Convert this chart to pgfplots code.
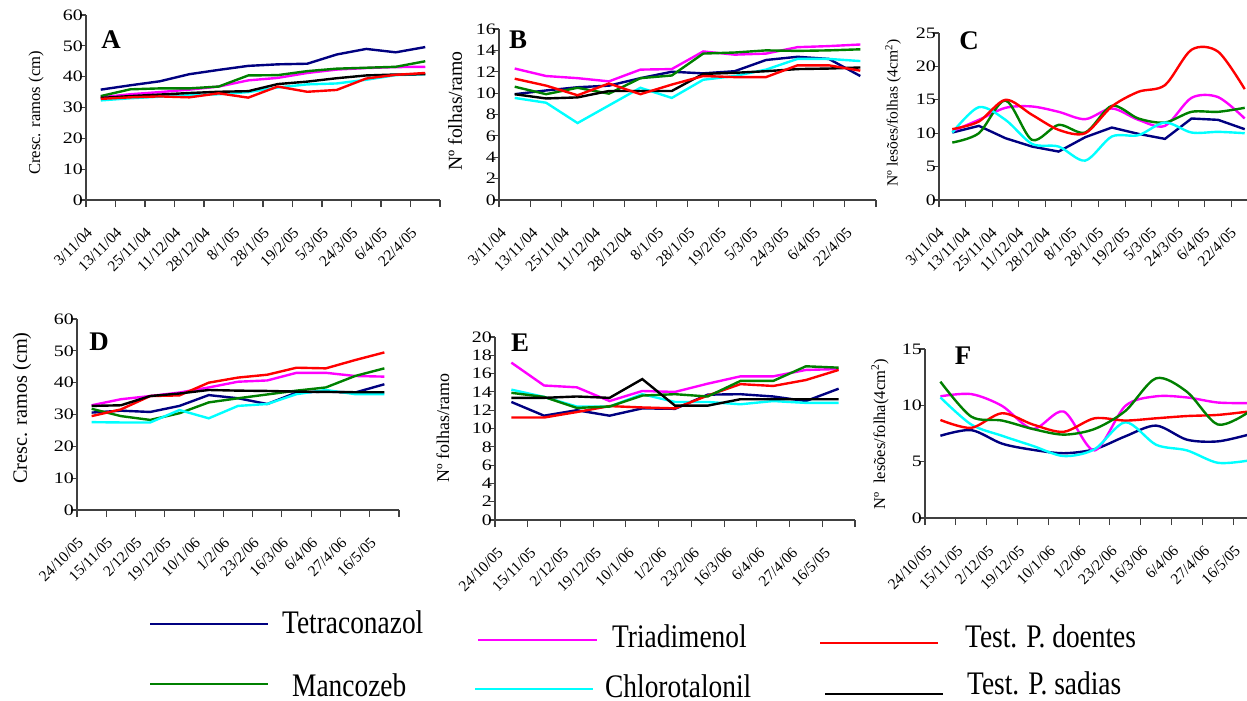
\documentclass[border=0pt]{standalone}
\usepackage{fontspec}
\setmainfont{Liberation Serif}
\usepackage{graphicx}
\usepackage{pgfplots}
\pgfplotsset{compat=1.18}
\usepackage{pgfplotstable}

\definecolor{cTet}{RGB}{0,0,128}
\definecolor{cTri}{RGB}{255,0,255}
\definecolor{cDoe}{RGB}{255,0,0}
\definecolor{cMan}{RGB}{0,128,0}
\definecolor{cChl}{RGB}{0,255,255}
\definecolor{cSad}{RGB}{0,0,0}

\pgfplotstableread{
x tet tri doe man chl sad
1 35.8 33.3 32.8 33.7 32.3 33.1
2 37.2 34.3 33.3 35.9 33.0 33.7
3 38.5 35.0 33.6 36.2 33.5 34.2
4 40.8 35.8 33.3 36.2 34.0 34.7
5 42.2 36.8 34.6 36.8 34.3 35.1
6 43.5 38.8 33.2 40.4 35.0 35.3
7 44.0 39.6 36.8 40.5 36.5 37.6
8 44.2 41.2 35.1 41.8 37.5 38.4
9 47.2 42.3 35.7 42.6 37.8 39.5
10 49.0 42.8 39.4 42.9 39.0 40.4
11 47.9 43.1 40.6 43.2 40.5 40.7
12 49.6 43.2 41.2 45.0 40.8 40.8
}\tabA

\pgfplotstableread{
x tet tri doe man chl sad
1 9.9 12.3 11.35 10.6 9.55 9.9
2 10.25 11.6 10.7 9.9 9.1 9.5
3 10.55 11.4 9.8 10.5 7.2 9.6
4 10.7 11.1 10.9 9.95 8.85 10.2
5 11.4 12.2 9.9 11.4 10.5 10.2
6 12.0 12.25 10.8 11.65 9.55 10.2
7 11.85 13.9 11.6 13.7 11.25 11.8
8 12.05 13.6 11.5 13.8 11.6 11.9
9 13.1 13.7 11.5 14.0 12.2 12.05
10 13.4 14.3 12.6 13.95 13.2 12.25
11 13.2 14.4 12.6 14.0 13.2 12.3
12 11.6 14.55 12.1 14.1 13.0 12.4
}\tabB

\pgfplotstableread{
x tet tri doe man chl
1 10.1 10.3 10.6 8.6 10.1
2 11.1 12.0 11.75 10.0 13.9
3 9.25 13.8 15.0 14.9 12.0
4 8.0 14.0 12.75 9.0 8.4
5 7.25 13.2 10.5 11.25 8.0
6 9.4 12.1 10.0 10.1 5.9
7 10.85 13.7 14.0 14.1 9.5
8 9.9 12.0 16.2 12.2 9.7
9 9.15 11.1 17.2 11.6 11.6
10 12.2 15.3 22.5 13.2 10.1
11 12.0 15.4 22.2 13.2 10.2
12 10.6 12.2 16.6 13.8 10.0
}\tabC

\pgfplotstableread{
x tet tri doe man chl sad
1 30.6 32.9 29.5 31.8 27.6 32.7
2 31.2 34.8 31.6 29.5 27.5 32.9
3 30.8 35.8 35.8 28.3 27.5 35.8
4 32.7 36.9 36.0 30.4 31.4 36.6
5 36.1 38.5 40.0 33.8 28.8 37.7
6 35.1 40.3 41.6 35.1 32.7 37.5
7 33.3 40.7 42.5 36.3 33.3 37.4
8 36.9 43.1 44.7 37.5 36.4 37.2
9 37.2 43.1 44.5 38.5 37.7 37.1
10 36.9 42.1 47.1 42.1 36.4 37.0
11 39.5 41.9 49.5 44.5 36.4 37.0
}\tabD

\pgfplotstableread{
x tet tri doe man chl sad
1 12.9 17.2 11.2 13.9 14.25 13.35
2 11.4 14.7 11.2 13.45 13.45 13.35
3 12.0 14.5 11.8 12.25 12.4 13.5
4 11.4 13.0 12.45 12.4 12.4 13.35
5 12.2 14.1 12.3 13.6 13.75 15.4
6 12.15 14.0 12.2 13.75 12.9 12.5
7 13.7 14.9 13.6 13.5 12.9 12.5
8 13.75 15.7 14.85 15.2 12.65 13.2
9 13.5 15.7 14.65 15.2 13.0 13.2
10 13.0 16.4 15.3 16.8 12.8 13.2
11 14.35 16.5 16.4 16.65 12.8 13.2
}\tabE

\pgfplotstableread{
x tet tri doe man chl
1 7.3 10.8 8.7 12.1 10.7
2 7.8 11.0 8.0 9.0 8.3
3 6.6 9.95 9.3 8.65 7.3
4 6.05 7.9 8.3 7.9 6.4
5 5.75 9.45 7.65 7.4 5.5
6 6.1 6.0 8.85 7.9 6.1
7 7.25 9.95 8.65 9.5 8.5
8 8.2 10.8 8.85 12.4 6.5
9 6.95 10.7 9.05 11.2 6.0
10 6.8 10.25 9.15 8.3 4.9
11 7.4 10.2 9.45 9.4 5.1
}\tabF

\pgfplotsset{
  panel/.style={
    scale only axis, anchor=south west,
    axis lines=left,
    axis line style={-, draw=black!75, line width=1.1bp},
    tick align=outside,
    xmin=0.5, ymin=0,
    major tick length=6bp, minor tick length=7bp,
    tick style={draw=black!75, line width=1.1bp},
    every major x tick/.append style={draw=none},
    /pgf/number format/assume math mode=true,
    yticklabel={\scalebox{1.25}[1]{\pgfmathprintnumber{\tick}}},
    yticklabel style={font=\fontsize{16}{18}\selectfont, inner sep=1bp, xshift=4bp},
    xticklabel style={font=\fontsize{15.5}{17}\selectfont, xshift=-11bp, yshift=-24bp, rotate=45, anchor=east, inner sep=0pt},
    every axis plot/.append style={line width=2.4bp},
    clip=false,
  },
  cats12/.style={xmax=12.5, xtick={1,...,12}, minor xtick={0.5,1.5,...,12.5},
    xticklabels={3/11/04,13/11/04,25/11/04,11/12/04,28/12/04,8/1/05,28/1/05,19/2/05,5/3/05,24/3/05,6/4/05,22/4/05}},
  cats11/.style={xmax=11.5, xtick={1,...,11}, minor xtick={0.5,1.5,...,11.5},
    xticklabels={24/10/05,15/11/05,2/12/05,19/12/05,10/1/06,1/2/06,23/2/06,16/3/06,6/4/06,27/4/06,16/5/05}},
}

\begin{document}
\begin{tikzpicture}
\useasboundingbox (0,0) rectangle (1247bp,-701bp);

% ---------- A ----------
\begin{axis}[panel, cats12, at={(86bp,-200bp)}, width=354bp, height=185bp,
  ymax=60, ytick={0,10,...,60}]
\addplot[cTet] table[x=x,y=tet]{\tabA};
\addplot[cTri] table[x=x,y=tri]{\tabA};
\addplot[cMan] table[x=x,y=man]{\tabA};
\addplot[cChl] table[x=x,y=chl]{\tabA};
\addplot[cSad] table[x=x,y=sad]{\tabA};
\addplot[cDoe] table[x=x,y=doe]{\tabA};
\end{axis}

% ---------- B ----------
\begin{axis}[panel, cats12, at={(499bp,-200bp)}, width=377bp, height=171bp,
  ymax=16, ytick={0,2,...,16}]
\addplot[cTet] table[x=x,y=tet]{\tabB};
\addplot[cTri] table[x=x,y=tri]{\tabB};
\addplot[cMan] table[x=x,y=man]{\tabB};
\addplot[cChl] table[x=x,y=chl]{\tabB};
\addplot[cSad] table[x=x,y=sad]{\tabB};
\addplot[cDoe] table[x=x,y=doe]{\tabB};
\end{axis}

% ---------- C ----------
\begin{axis}[panel, cats12, at={(939bp,-200bp)}, width=319bp, height=167bp,
  ymax=25, ytick={0,5,...,25}]
\addplot[cTet] table[x=x,y=tet]{\tabC};
\addplot[cTri, smooth] table[x=x,y=tri]{\tabC};
\addplot[cMan, smooth] table[x=x,y=man]{\tabC};
\addplot[cChl, smooth] table[x=x,y=chl]{\tabC};
\addplot[cDoe, smooth] table[x=x,y=doe]{\tabC};
\end{axis}

% ---------- D ----------
\begin{axis}[panel, cats11, at={(77bp,-510bp)}, width=322bp, height=191bp,
  ymax=60, ytick={0,10,...,60}]
\addplot[cTet] table[x=x,y=tet]{\tabD};
\addplot[cTri] table[x=x,y=tri]{\tabD};
\addplot[cMan] table[x=x,y=man]{\tabD};
\addplot[cChl] table[x=x,y=chl]{\tabD};
\addplot[cDoe] table[x=x,y=doe]{\tabD};
\addplot[cSad] table[x=x,y=sad]{\tabD};
\end{axis}

% ---------- E ----------
\begin{axis}[panel, cats11, at={(495bp,-520bp)}, width=360bp, height=183bp,
  ymax=20, ytick={0,2,...,20}]
\addplot[cTet] table[x=x,y=tet]{\tabE};
\addplot[cTri] table[x=x,y=tri]{\tabE};
\addplot[cChl] table[x=x,y=chl]{\tabE};
\addplot[cDoe] table[x=x,y=doe]{\tabE};
\addplot[cMan] table[x=x,y=man]{\tabE};
\addplot[cSad] table[x=x,y=sad]{\tabE};
\end{axis}

% ---------- F ----------
\begin{axis}[panel, cats11, at={(925bp,-518bp)}, width=339bp, height=169bp,
  ymax=15, ytick={0,5,...,15}]
\addplot[cTet, smooth] table[x=x,y=tet]{\tabF};
\addplot[cTri, smooth] table[x=x,y=tri]{\tabF};
\addplot[cChl, smooth] table[x=x,y=chl]{\tabF};
\addplot[cDoe, smooth] table[x=x,y=doe]{\tabF};
\addplot[cMan, smooth] table[x=x,y=man]{\tabF};
\end{axis}

% panel letters
\begin{scope}[every node/.style={font=\bfseries\fontsize{27}{30}\selectfont, inner sep=0pt}]
\node at (111bp,-40bp) {A};
\node at (518bp,-40bp) {B};
\node at (969bp,-41bp) {C};
\node at (99bp,-342bp) {D};
\node at (520bp,-343bp) {E};
\node at (963bp,-356bp) {F};
\end{scope}

% y labels
\node[rotate=90, inner sep=0pt, font=\fontsize{16.7}{18}\selectfont] at (36bp,-113bp) {Cresc. ramos (cm)};
\node[rotate=90, inner sep=0pt, font=\fontsize{19.8}{22}\selectfont] at (455bp,-111bp) {Nº folhas/ramo};
\node[rotate=90, inner sep=0pt, font=\fontsize{15.6}{18}\selectfont] at (893bp,-113bp) {Nº lesões/folhas (4cm\textsuperscript{2})};
\node[rotate=90, inner sep=0pt, font=\fontsize{20.4}{22}\selectfont] at (22bp,-408bp) {Cresc. ramos (cm)};
\node[rotate=90, inner sep=0pt, font=\fontsize{18}{20}\selectfont] at (443bp,-428bp) {Nº folhas/ramo};
\node[rotate=90, inner sep=0pt, font=\fontsize{16.6}{18}\selectfont] at (880bp,-434bp) {Nº\ \ lesões/folha(4cm\textsuperscript{2})};

% legend
\begin{scope}[every node/.style={anchor=west, inner sep=0pt, font=\fontsize{27.5}{30}\selectfont}]
\draw[cTet, line width=2.4bp] (150bp,-624bp) -- (268bp,-624bp);
\node at (282bp,-622bp) {\scalebox{1}[1.2]{Tetraconazol}};
\draw[cTri, line width=2.4bp] (478bp,-640bp) -- (597bp,-640bp);
\node at (612bp,-636bp) {\scalebox{1}[1.2]{Triadimenol}};
\draw[cDoe, line width=2.4bp] (820bp,-643bp) -- (938bp,-643bp);
\node at (965bp,-636bp) {\scalebox{1}[1.2]{Test. P. doentes}};
\draw[cMan, line width=2.4bp] (150bp,-684bp) -- (268bp,-684bp);
\node at (292bp,-685bp) {\scalebox{1}[1.2]{Mancozeb}};
\draw[cChl, line width=2.4bp] (475bp,-689bp) -- (593bp,-689bp);
\node at (605bp,-686bp) {\scalebox{1}[1.2]{Chlorotalonil}};
\draw[cSad, line width=2.8bp] (825bp,-694bp) -- (943bp,-694bp);
\node at (967bp,-683bp) {\scalebox{1}[1.2]{Test. P. sadias}};
\end{scope}
\end{tikzpicture}
\end{document}
